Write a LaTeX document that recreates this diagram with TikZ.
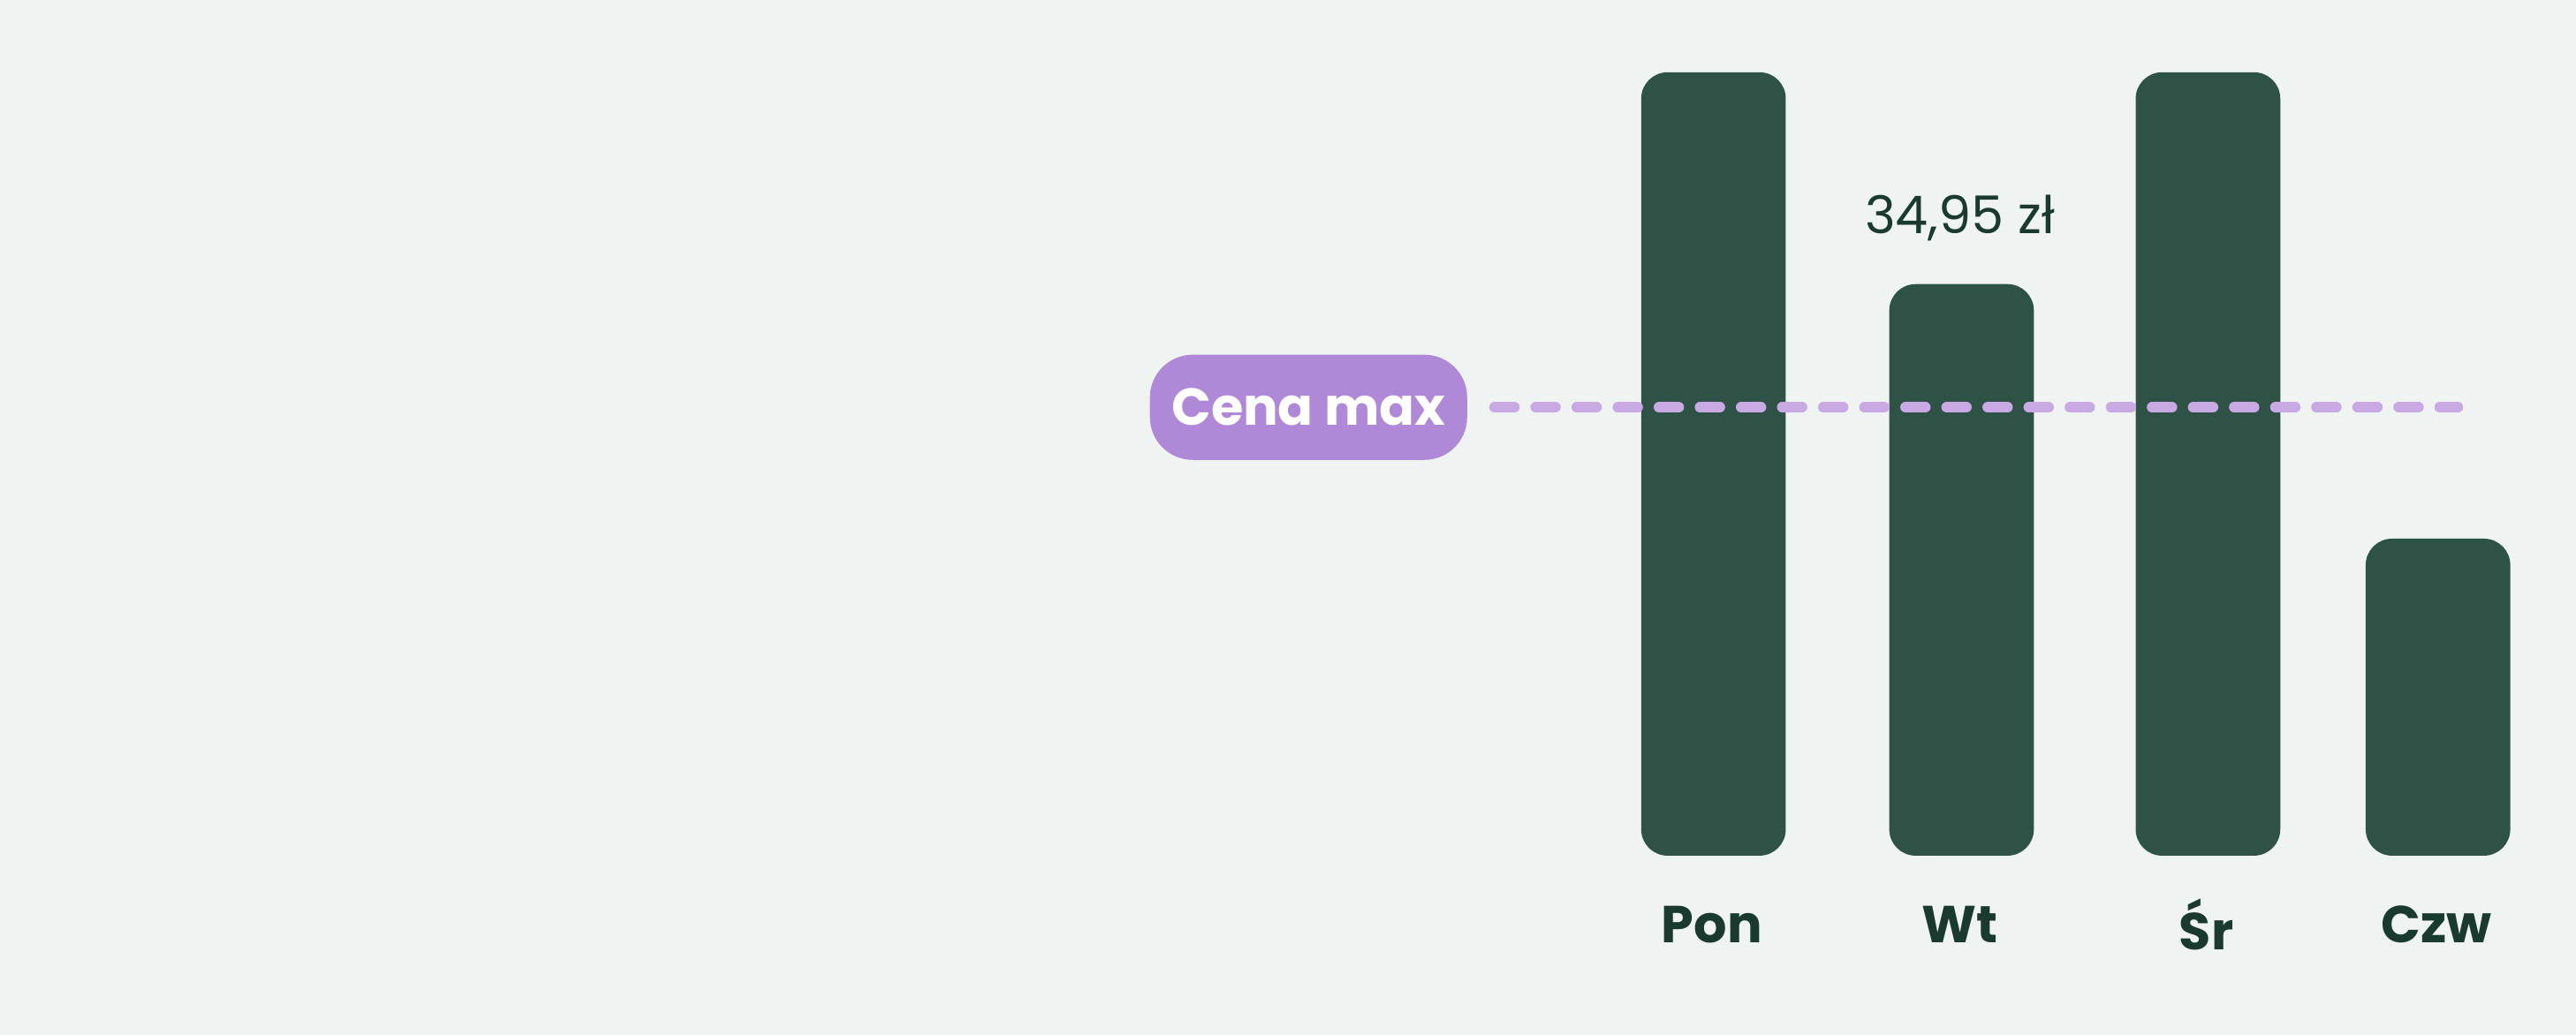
\documentclass[tikz,border=0pt]{standalone}
\usepackage{fontspec}
\setmainfont{Poppins}
\usetikzlibrary{positioning}
\definecolor{bgcol}{HTML}{EFF3F1}
\definecolor{barcol}{HTML}{2F5246}
\definecolor{txtcol}{HTML}{1A3A2F}
\definecolor{maxcol}{HTML}{B088D8}
\definecolor{dashcol}{HTML}{C9A9E3}
\begin{document}
\begin{tikzpicture}[x=0.01cm, y=-0.01cm,
  bar/.style={fill=barcol, rounded corners=0.16cm},
  daylabel/.style={font=\bfseries\fontsize{9}{10}\selectfont, text=txtcol}]
  % Background
  \fill[bgcol] (0,0) rectangle (1568,630);
  \useasboundingbox (0,0) rectangle (1568,630);

  % Bars
  \fill[bar] (999,44) rectangle (1087,521);
  \fill[bar] (1150,173) rectangle (1238,521);
  \fill[bar] (1300,44) rectangle (1388,521);
  \fill[bar] (1440,328) rectangle (1528,521);

  % Day labels
  \node[daylabel] (pon) at (1042,563) {Pon};
  \node[daylabel] (wt)  at (1193,563) {Wt};
  \node[daylabel] (sr)  at (1343,563) {Śr};
  \node[daylabel] (czw) at (1483,563) {Czw};

  % Price
  \node[text=txtcol, font=\fontsize{9}{10}\selectfont] (price) at (1193,133) {34,95 zł};

  % Max price line
  \node[fill=maxcol, rounded corners=0.26cm, minimum width=1.93cm, minimum height=0.64cm,
        text=white, font=\bfseries\fontsize{9}{10}\selectfont] (cena) at (796.5,248) {Cena max};
  \coordinate (lineend) at (1496,248);
  \draw[dashcol, line width=0.065cm, line cap=round, dash pattern=on 0.12cm off 0.13cm]
    ([xshift=0.16cm]cena.east) -- (lineend);
\end{tikzpicture}
\end{document}
